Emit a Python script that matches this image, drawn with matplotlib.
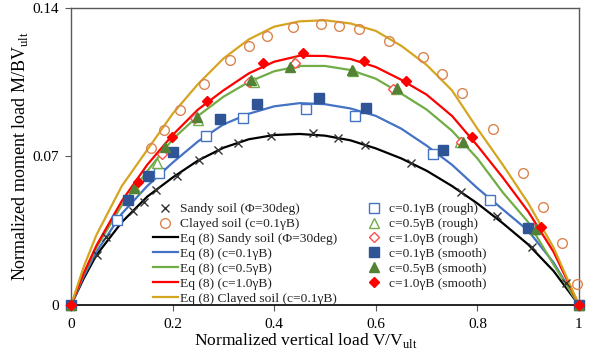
import matplotlib
matplotlib.use("Agg")

import matplotlib.pyplot as plt
from matplotlib.lines import Line2D

plt.rcParams["font.family"] = ["Liberation Serif", "DejaVu Serif"]
plt.rcParams["mathtext.fontset"] = "custom"
plt.rcParams["mathtext.rm"] = "Liberation Serif"

# Eq (8) curves
V_EQ = [0, 0.025, 0.05, 0.1, 0.15, 0.2, 0.25, 0.3, 0.35, 0.4, 0.45, 0.5,
        0.55, 0.6, 0.65, 0.7, 0.75, 0.8, 0.85, 0.9, 0.95, 1.0]
EQ_SANDY = [0, 0.0125, 0.0235, 0.039, 0.051, 0.060, 0.068, 0.074, 0.078, 0.0800, 0.0805, 0.0797,
            0.0775, 0.0737, 0.0690, 0.0632, 0.0560, 0.0478, 0.0385, 0.0285, 0.0160, 0]
EQ_C01 = [0, 0.0135, 0.025, 0.043, 0.056, 0.067, 0.077, 0.085, 0.090, 0.0935, 0.095, 0.0945,
          0.0925, 0.089, 0.083, 0.075, 0.066, 0.055, 0.045, 0.035, 0.020, 0]
EQ_C05 = [0, 0.0145, 0.027, 0.047, 0.063, 0.078, 0.089, 0.098, 0.105, 0.1100, 0.1125, 0.1125,
          0.1106, 0.1065, 0.0995, 0.092, 0.082, 0.069, 0.053, 0.039, 0.019, 0]
EQ_C10 = [0, 0.015, 0.028, 0.049, 0.066, 0.080, 0.092, 0.101, 0.109, 0.1145, 0.1173, 0.1172,
          0.1158, 0.112, 0.106, 0.099, 0.089, 0.075, 0.060, 0.044, 0.025, 0]
EQ_CLAY = [0, 0.018, 0.033, 0.056, 0.073, 0.090, 0.104, 0.116, 0.125, 0.131, 0.1335, 0.134,
           0.1325, 0.129, 0.122, 0.113, 0.101, 0.083, 0.066, 0.048, 0.027, 0]

# test results
SANDY_V = [0.051, 0.069, 0.122, 0.144, 0.167, 0.209, 0.252, 0.290, 0.329, 0.394, 0.477,
           0.526, 0.579, 0.670, 0.768, 0.839, 0.908, 0.975]
SANDY_M = [0.0235, 0.032, 0.0442, 0.0485, 0.0541, 0.0607, 0.0682, 0.0729, 0.0762, 0.0795, 0.0809,
           0.0786, 0.0753, 0.0668, 0.0532, 0.0419, 0.0273, 0.0104]
CLAY_V = [0.158, 0.183, 0.215, 0.262, 0.313, 0.351, 0.386, 0.437, 0.493, 0.528,
          0.566, 0.625, 0.692, 0.731, 0.770, 0.830, 0.889, 0.930, 0.967, 0.997]
CLAY_M = [0.0739, 0.0824, 0.0918, 0.1042, 0.1155, 0.1219, 0.1264, 0.1308, 0.1322, 0.1313,
          0.1299, 0.1242, 0.1167, 0.1087, 0.0998, 0.0828, 0.0621, 0.0461, 0.0292, 0.0099]

ROUGH01_V = [0.091, 0.173, 0.266, 0.339, 0.463, 0.560, 0.713, 0.824]
ROUGH01_M = [0.040, 0.0621, 0.0795, 0.0880, 0.0922, 0.0889, 0.0711, 0.0494]
ROUGH05_V = [0.125, 0.169, 0.250, 0.360, 0.439, 0.555, 0.640, 0.766, 0.912]
ROUGH05_M = [0.055, 0.0668, 0.087, 0.105, 0.1144, 0.110, 0.1018, 0.0765, 0.036]
ROUGH10_V = [0.179, 0.244, 0.350, 0.440, 0.634, 0.768, 0.912]
ROUGH10_M = [0.0711, 0.088, 0.105, 0.114, 0.1016, 0.0767, 0.036]

SMOOTH01_V = [0, 0.112, 0.152, 0.201, 0.294, 0.367, 0.489, 0.581, 0.733, 0.900, 1.0]
SMOOTH01_M = [0, 0.0496, 0.0605, 0.0720, 0.0875, 0.0946, 0.0974, 0.0927, 0.0729, 0.0362, 0]
SMOOTH05_V = [0, 0.124, 0.185, 0.248, 0.355, 0.432, 0.554, 0.642, 0.772, 0.916, 1.0]
SMOOTH05_M = [0, 0.0551, 0.0744, 0.0887, 0.1061, 0.1120, 0.1104, 0.1021, 0.0765, 0.0360, 0]
SMOOTH10_V = [0, 0.132, 0.199, 0.268, 0.378, 0.457, 0.577, 0.660, 0.790, 0.926, 1.0]
SMOOTH10_M = [0, 0.0579, 0.0793, 0.0960, 0.1139, 0.1186, 0.1148, 0.1054, 0.0791, 0.0367, 0]

BLUE_LINE = "#4472C4"
BLUE_MK = "#2F5597"
GREEN_LINE = "#70AD47"
GREEN_MK = "#548235"
RED = "#FF0000"
GOLD = "#D6A520"
ORANGE = "#DA8550"

fig = plt.figure(figsize=(5.92, 3.58), dpi=100)
ax = fig.add_axes([0.12, 0.148, 0.858, 0.831])

lw = 1.6
ax.plot(V_EQ, EQ_SANDY, color="black", lw=lw, zorder=3)
ax.plot(V_EQ, EQ_C01, color=BLUE_LINE, lw=lw, zorder=3)
ax.plot(V_EQ, EQ_C05, color=GREEN_LINE, lw=lw, zorder=3)
ax.plot(V_EQ, EQ_C10, color=RED, lw=lw, zorder=3)
ax.plot(V_EQ, EQ_CLAY, color=GOLD, lw=lw, zorder=3)

kw = dict(linestyle="none", clip_on=False, zorder=4)
ax.plot(SANDY_V, SANDY_M, marker="x", ms=6, mew=1.0, color="#333333", **kw)
ax.plot(CLAY_V, CLAY_M, marker="o", ms=7, mew=1.0, mfc="none", mec=ORANGE, **kw)
ax.plot(ROUGH01_V, ROUGH01_M, marker="s", ms=6.5, mew=1.0, mfc="white", mec=BLUE_LINE, **kw)
ax.plot(ROUGH05_V, ROUGH05_M, marker="^", ms=6.5, mew=1.0, mfc="white", mec=GREEN_LINE, **kw)
ax.plot(ROUGH10_V, ROUGH10_M, marker="D", ms=5, mew=1.0, mfc="white", mec="#FF5050", **kw)
ax.plot(SMOOTH01_V, SMOOTH01_M, marker="s", ms=7, color=BLUE_MK, **kw)
ax.plot(SMOOTH05_V, SMOOTH05_M, marker="^", ms=7, color=GREEN_MK, **kw)
ax.plot(SMOOTH10_V, SMOOTH10_M, marker="D", ms=5.5, color=RED, **kw)

ax.set_xlim(0, 1)
ax.set_ylim(0, 0.14)
ax.set_xticks([0, 0.2, 0.4, 0.6, 0.8, 1.0])
ax.set_xticklabels(["0", "0.2", "0.4", "0.6", "0.8", "1"])
ax.set_yticks([0, 0.07, 0.14])
ax.set_yticklabels(["0", "0.07", "0.14"])
ax.tick_params(labelsize=11, length=4, width=0.8, color="#595959", pad=5)
for side in ["top", "right", "left"]:
    ax.spines[side].set_color("#595959")
    ax.spines[side].set_linewidth(1.0)
ax.spines["bottom"].set_color("black")
ax.spines["bottom"].set_linewidth(1.2)

ax.set_xlabel("Normalized vertical load V/V$_{\\mathrm{ult}}$", fontsize=12.6)
ax.xaxis.set_label_coords(0.463, -0.118, transform=ax.transAxes)
ax.xaxis.label.set_verticalalignment("center")
ax.set_ylabel("Normalized moment load M/BV$_{\\mathrm{ult}}$", fontsize=13)
ax.yaxis.set_label_coords(-0.1, 0.5, transform=ax.transAxes)
ax.yaxis.label.set_verticalalignment("center")

handles = [
    Line2D([], [], ls="none", marker="x", ms=6, mew=1.0, color="#333333"),
    Line2D([], [], ls="none", marker="o", ms=7, mew=1.0, mfc="none", mec=ORANGE),
    Line2D([], [], color="black", lw=lw),
    Line2D([], [], color=BLUE_LINE, lw=lw),
    Line2D([], [], color=GREEN_LINE, lw=lw),
    Line2D([], [], color=RED, lw=lw),
    Line2D([], [], color=GOLD, lw=lw),
    Line2D([], [], ls="none", marker="s", ms=6.5, mew=1.0, mfc="white", mec=BLUE_LINE),
    Line2D([], [], ls="none", marker="^", ms=6.5, mew=1.0, mfc="white", mec=GREEN_LINE),
    Line2D([], [], ls="none", marker="D", ms=5, mew=1.0, mfc="white", mec="#FF5050"),
    Line2D([], [], ls="none", marker="s", ms=7, color=BLUE_MK),
    Line2D([], [], ls="none", marker="^", ms=7, color=GREEN_MK),
    Line2D([], [], ls="none", marker="D", ms=5.5, color=RED),
]
labels = [
    "Sandy soil (\u03a6=30deg)",
    "Clayed soil (c=0.1\u03b3B)",
    "Eq (8) Sandy soil (\u03a6=30deg)",
    "Eq (8) (c=0.1\u03b3B)",
    "Eq (8) (c=0.5\u03b3B)",
    "Eq (8) (c=1.0\u03b3B)",
    "Eq (8) Clayed soil (c=0.1\u03b3B)",
    "c=0.1\u03b3B (rough)",
    "c=0.5\u03b3B (rough)",
    "c=1.0\u03b3B (rough)",
    "c=0.1\u03b3B (smooth)",
    "c=0.5\u03b3B (smooth)",
    "c=1.0\u03b3B (smooth)",
]
leg = ax.legend(handles, labels, ncol=2, frameon=False, fontsize=9.7,
                loc="lower left", bbox_to_anchor=(0.142, -0.03),
                handlelength=1.85, handletextpad=0.15, labelspacing=0.18,
                columnspacing=1.87, borderpad=0.2)
for t in leg.get_texts():
    t.set_color("#222222")

fig.savefig("out.png", dpi=100)
